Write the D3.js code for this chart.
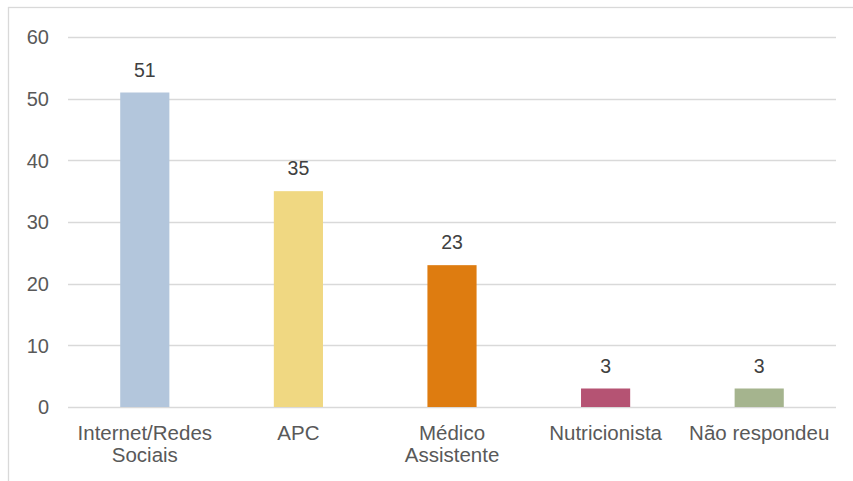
<!DOCTYPE html>
<html>
<head>
  <meta charset="utf-8">
  <style>
    body { margin: 0; background: #fff; }
    text { font-family: "Liberation Sans", Arial, sans-serif; }
  </style>
</head>
<body>
  <svg id="chart" width="853" height="481"></svg>
  <script src="https://cdn.jsdelivr.net/npm/d3@7"></script>
  <script>
    var categories = [["Internet/Redes", "Sociais"], ["APC"], ["Médico", "Assistente"], ["Nutricionista"], ["Não respondeu"]];
    var values = [51, 35, 23, 3, 3];
    var colors = ["#b3c6dc", "#f0d882", "#de7c10", "#b55373", "#a5b48e"];
    var yTicks = [0, 10, 20, 30, 40, 50, 60];

    var svg = d3.select("#chart");

    // outer frame
    svg.append("rect")
      .attr("x", 8.5).attr("y", 7.5)
      .attr("width", 860).attr("height", 500)
      .attr("fill", "none").attr("stroke", "#d9d9d9").attr("stroke-width", 1.3);

    var plotLeft = 68, plotRight = 836, plotTop = 37, plotBottom = 407;

    var x = d3.scaleBand()
      .domain(d3.range(values.length))
      .range([plotLeft, plotRight])
      .paddingInner(0.68).paddingOuter(0.34);

    var y = d3.scaleLinear().domain([0, 60]).range([plotBottom, plotTop]);

    // gridlines
    svg.append("g").selectAll("line")
      .data(yTicks)
      .enter().append("line")
      .attr("x1", plotLeft).attr("x2", plotRight)
      .attr("y1", function (d) { return Math.round(y(d)) + 0.5; })
      .attr("y2", function (d) { return Math.round(y(d)) + 0.5; })
      .attr("stroke", "#d9d9d9").attr("stroke-width", 1.3);

    // y axis labels
    svg.append("g").selectAll("text")
      .data(yTicks)
      .enter().append("text")
      .attr("x", 49)
      .attr("y", function (d) { return y(d); })
      .attr("dy", "0.36em")
      .attr("text-anchor", "end")
      .style("font-size", "20px")
      .attr("fill", "#595959")
      .text(function (d) { return d; });

    // bars
    svg.append("g").selectAll("rect")
      .data(values)
      .enter().append("rect")
      .attr("x", function (d, i) { return x(i); })
      .attr("y", function (d) { return y(d); })
      .attr("width", x.bandwidth())
      .attr("height", function (d) { return y(0) - y(d); })
      .attr("fill", function (d, i) { return colors[i]; });

    // value labels
    svg.append("g").selectAll("text")
      .data(values)
      .enter().append("text")
      .attr("x", function (d, i) { return x(i) + x.bandwidth() / 2; })
      .attr("y", function (d) { return y(d) - 16; })
      .attr("text-anchor", "middle")
      .style("font-size", "19.5px")
      .attr("fill", "#404040")
      .text(function (d) { return d; });

    // category labels
    var cat = svg.append("g").selectAll("text")
      .data(categories)
      .enter().append("text")
      .attr("text-anchor", "middle")
      .style("font-size", "20.5px")
      .attr("fill", "#595959")
      .attr("transform", function (d, i) { return "translate(" + (x(i) + x.bandwidth() / 2) + ",440)"; });

    cat.selectAll("tspan")
      .data(function (d) { return d; })
      .enter().append("tspan")
      .attr("x", 0)
      .attr("y", function (d, j) { return j * 22; })
      .text(function (d) { return d; });
  </script>
</body>
</html>
